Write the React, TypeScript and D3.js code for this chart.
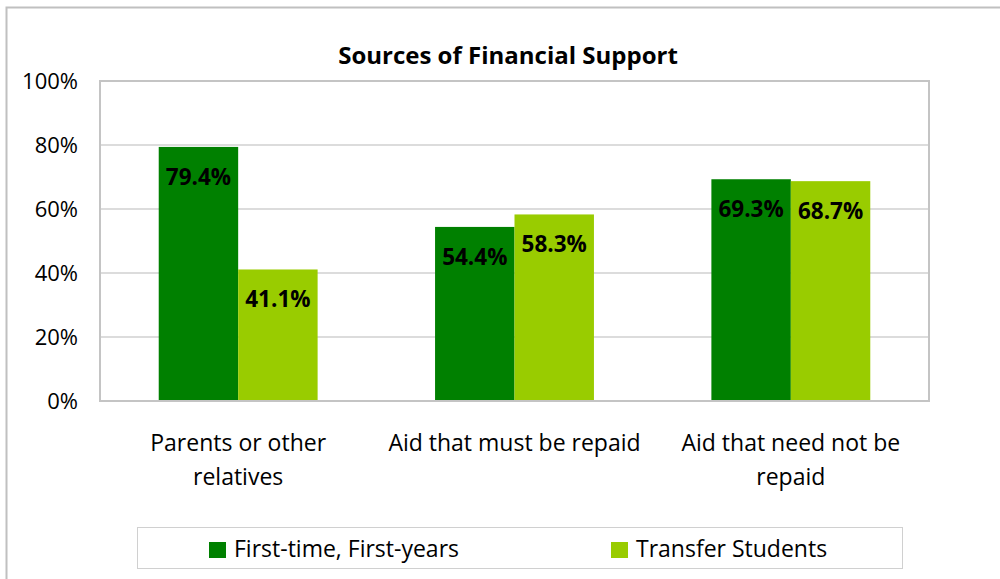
import React from "react";
import * as d3 from "d3";

const categories: string[][] = [
  ["Parents or other", "relatives"],
  ["Aid that must be repaid"],
  ["Aid that need not be", "repaid"],
];
const firstYears: number[] = [79.4, 54.4, 69.3];
const transfers: number[] = [41.1, 58.3, 68.7];
const seriesNames: string[] = ["First-time, First-years", "Transfer Students"];
const colors: string[] = ["#008000", "#99cc00"];
const yTicks: number[] = [0, 20, 40, 60, 80, 100];

const W = 1000;
const H = 579;
const FONT = "'Open Sans', sans-serif";

export default function App() {
  const left = 100, right = 929, top = 81, bottom = 401;
  const x = d3.scaleBand<number>().domain([0, 1, 2]).range([left, right]).paddingInner(0.425).paddingOuter(0.2125);
  const y = d3.scaleLinear().domain([0, 100]).range([bottom, top]);
  const bw = x.bandwidth() / 2;
  const series = [firstYears, transfers];

  return (
    <svg width={W} height={H} style={{ position: "absolute", left: 0, top: 0, fontFamily: FONT }}>
      <rect x={0} y={0} width={W} height={H} fill="#fff" />
      <path d={`M6.5,${H} V7.5 H${W}`} fill="none" stroke="#c0c0c0" strokeWidth={2} />
      <text x={508} y={64} textAnchor="middle" fontWeight="bold" fontSize={24} fill="#000">
        Sources of Financial Support
      </text>
      {yTicks.map((t) => (
        <g key={t}>
          {t > 0 && t < 100 && (
            <line x1={left} x2={right} y1={y(t)} y2={y(t)} stroke="#d0d0d0" strokeWidth={1.5} />
          )}
          <text x={78} y={y(t) + 8} textAnchor="end" fontSize={22} fill="#000">
            {t}%
          </text>
        </g>
      ))}
      {series.map((vals, si) =>
        vals.map((v, ci) => {
          const bx = (x(ci) as number) + si * bw;
          return (
            <g key={`${si}-${ci}`}>
              <rect x={bx} y={y(v)} width={bw} height={bottom - y(v)} fill={colors[si]} />
              <text x={bx + bw / 2} y={y(v) + 38} textAnchor="middle" fontWeight="bold" fontSize={22.5} fill="#000">
                {v.toFixed(1)}%
              </text>
            </g>
          );
        })
      )}
      <rect x={left} y={top} width={right - left} height={bottom - top} fill="none" stroke="#c4c4c4" strokeWidth={2} />
      {categories.map((lines, ci) => (
        <text key={ci} textAnchor="middle" fontSize={23} fill="#000">
          {lines.map((l, li) => (
            <tspan key={li} x={(x(ci) as number) + x.bandwidth() / 2} y={451 + li * 34}>
              {l}
            </tspan>
          ))}
        </text>
      ))}
      <rect x={137.5} y={527.5} width={765} height={41} fill="#fff" stroke="#d0d0d0" strokeWidth={1} />
      {seriesNames.map((n, i) => {
        const lx = [209, 611][i];
        return (
          <g key={n}>
            <rect x={lx} y={542} width={17} height={16} fill={colors[i]} />
            <text x={lx + 25} y={557} fontSize={23} fill="#000">
              {n}
            </text>
          </g>
        );
      })}
    </svg>
  );
}
